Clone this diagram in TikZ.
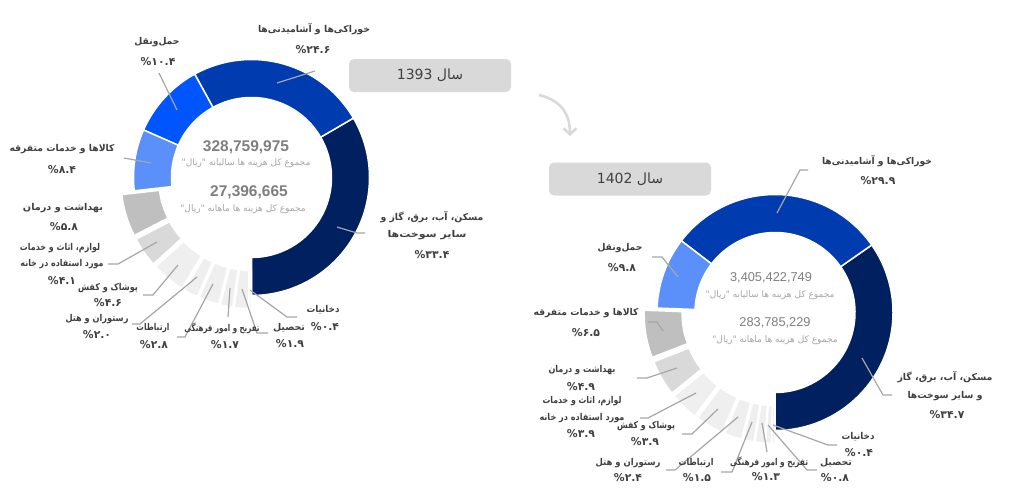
\documentclass[tikz,border=0pt]{standalone}
\usepackage{fontspec}
\usepackage{graphicx}
\setmainfont{Liberation Sans}
\newfontfamily\ar[Script=Arabic]{DejaVu Sans}
\TeXXeTstate=1
\usetikzlibrary{arrows.meta}
\definecolor{navy}{HTML}{002060}
\definecolor{foodblue}{HTML}{003CAF}
\definecolor{brightblue}{HTML}{0055FF}
\definecolor{lightblue}{HTML}{5B8FFA}
\definecolor{gA}{HTML}{BFBFBF}
\definecolor{gB}{HTML}{D9D9D9}
\definecolor{gC}{HTML}{EFEFEF}
\definecolor{labelgray}{HTML}{404040}
\definecolor{leadgray}{HTML}{A6A6A6}
\definecolor{numgray}{HTML}{7F7F7F}
\definecolor{subgray}{HTML}{A6A6A6}
\definecolor{boxgray}{HTML}{D9D9D9}
\newcommand\dslice[6]{%
  \begin{scope}[shift={(#1,#2)}]
    \pgfmathsetmacro\dsa{-(#3)}%
    \pgfmathsetmacro\dsb{-(#4)}%
    \pgfmathsetmacro\dsm{-((#3)+(#4))/2}%
    \fill[#5, draw=white, line width=1.5pt, shift={(\dsm:#6)}]
      (\dsa:80) -- (\dsa:118) arc[start angle=\dsa, end angle=\dsb, radius=118]
      -- (\dsb:80) arc[start angle=\dsb, end angle=\dsa, radius=80] -- cycle;
  \end{scope}}
\newcommand\ldrtwo[3]{\coordinate (#1s) at (#2); \coordinate (#1e) at (#3); \draw[leadline] (#1s) -- (#1e);}
\newcommand\ldrthree[4]{\coordinate (#1s) at (#2); \coordinate (#1m) at (#3); \coordinate (#1e) at (#4); \draw[leadline] (#1s) -- (#1m) -- (#1e);}
\newcommand\fw[2]{\resizebox{#1pt}{\height}{#2}}
\begin{document}
\begin{tikzpicture}[x=1pt,y=1pt,yscale=-1,
  lbl/.style={font=\ar\bfseries\fontsize{9.4}{11}\selectfont, text=labelgray, inner sep=0pt, anchor=center},
  pct/.style={font=\ar\bfseries\fontsize{10.8}{12}\selectfont, text=labelgray, inner sep=0pt, anchor=center},
  leadline/.style={draw=leadgray, line width=1.2pt},
  bignum/.style={font=\bfseries\fontsize{15.5}{18}\selectfont, text=numgray, inner sep=0pt},
  midnum/.style={font=\fontsize{12.8}{15}\selectfont, text=numgray, inner sep=0pt},
  subtxt/.style={font=\ar\fontsize{9}{10}\selectfont, text=subgray, inner sep=0pt},
  yearbox/.style={fill=boxgray, rounded corners=5pt, minimum width=162pt, minimum height=33pt, inner sep=0pt, font=\ar\fontsize{14}{16}\selectfont, text=labelgray}]
\useasboundingbox (0,0) rectangle (1023,490);
\fill[white] (0,0) rectangle (1023,490);

% ---------- chart 1 (1393) ----------
\dslice{251.5}{177.5}{-90}{30.24}{navy}{0}
\dslice{251.5}{177.5}{30.24}{118.8}{foodblue}{0}
\dslice{251.5}{177.5}{118.8}{156.24}{brightblue}{0}
\dslice{251.5}{177.5}{156.24}{186.48}{lightblue}{0}
\dslice{251.5}{177.5}{186.48}{207.36}{gA}{13}
\dslice{251.5}{177.5}{207.36}{222.12}{gB}{13}
\dslice{251.5}{177.5}{222.12}{238.68}{gC}{13}
\dslice{251.5}{177.5}{238.68}{245.88}{gC}{13}
\dslice{251.5}{177.5}{245.88}{255.96}{gC}{13}
\dslice{251.5}{177.5}{255.96}{262.08}{gC}{13}
\dslice{251.5}{177.5}{262.08}{268.92}{gC}{13}
\dslice{251.5}{177.5}{268.92}{270}{gC}{13}

% ---------- chart 2 (1402) ----------
\dslice{775}{312.5}{-90}{34.92}{navy}{0}
\dslice{775}{312.5}{34.92}{142.56}{foodblue}{0}
\dslice{775}{312.5}{142.56}{177.84}{lightblue}{0}
\dslice{775}{312.5}{177.84}{201.24}{gA}{13}
\dslice{775}{312.5}{201.24}{218.88}{gB}{13}
\dslice{775}{312.5}{218.88}{232.92}{gC}{13}
\dslice{775}{312.5}{232.92}{246.96}{gC}{13}
\dslice{775}{312.5}{246.96}{255.6}{gC}{13}
\dslice{775}{312.5}{255.6}{261}{gC}{13}
\dslice{775}{312.5}{261}{265.68}{gC}{13}
\dslice{775}{312.5}{265.68}{268.56}{gC}{13}
\dslice{775}{312.5}{268.56}{270}{gC}{13}

% ---------- leaders chart 1 ----------
\ldrtwo{la1}{277,83}{315,71}
\ldrtwo{lb1}{177,110}{159,73}
\ldrtwo{lc1}{151,163}{124,158}
\ldrthree{le1}{157,242}{118,264}{108,264}
\ldrthree{lf1}{178,265}{153,295}{143,295}
\ldrthree{lg1}{197,277}{140,324}{132,324}
\ldrthree{lh1}{213,284}{185,337}{177,337}
\ldrtwo{li1}{230,288}{228,317}
\ldrthree{lj1}{242,289}{257,333}{268,333}
\ldrthree{lk1}{250,290}{287,317}{297,317}
\ldrthree{ll1}{337,227}{357,233}{365,233}

% ---------- leaders chart 2 ----------
\ldrthree{la2}{777,213}{800,170}{808,170}
\ldrthree{lb2}{678,277}{662,257}{652,257}
\ldrthree{lc2}{663,331}{657,322}{648,322}
\ldrthree{ld2}{677,368}{647,378}{637,378}
\ldrthree{le2}{696,393}{648,418}{640,418}
\ldrthree{lf2}{718,409}{692,434}{682,434}
\ldrthree{lg2}{738,417}{675,470}{666,470}
\ldrthree{lh2}{752,422}{732,472}{721,472}
\ldrtwo{li2}{762,423}{767,452}
\ldrthree{lj2}{768,425}{807,470}{817,470}
\ldrthree{lk2}{773,425}{828,445}{837,445}
\ldrthree{ll2}{862,358}{883,395}{892,395}

% ---------- centre texts ----------
\node[bignum] (tot1) at (246,147) {328,759,975};
\node[subtxt] (tot1s) at (246,163) {\beginR مجموع کل هزینه ها سالیانه "ریال"\endR};
\node[bignum] (mon1) at (249,192) {27,396,665};
\node[subtxt] (mon1s) at (243,209) {\beginR مجموع کل هزینه ها ماهانه "ریال"\endR};

\node[midnum] (tot2) at (771,278) {3,405,422,749};
\node[subtxt] (tot2s) at (770,295) {\beginR مجموع کل هزینه ها سالیانه "ریال"\endR};
\node[midnum] (mon2) at (775,323) {283,785,229};
\node[subtxt] (mon2s) at (775,340) {\beginR مجموع کل هزینه ها ماهانه "ریال"\endR};

% ---------- year boxes and arrow ----------
\node[yearbox] (y1) at (430,75.5) {\beginR سال 1393\endR};
\node[yearbox] (y2) at (630,179) {\beginR سال 1402\endR};
\coordinate (arS) at (539,95);
\coordinate (arE) at (570,136);
\draw[boxgray, line width=2.5pt, -{Straight Barb[length=6pt,width=13pt]}] (arS) .. controls (560,100) and (570,113) .. (arE);

% ---------- labels chart 1 ----------
\node[lbl] (a1t) at (314,29) {\fw{112}{\beginR خوراکی‌ها و آشامیدنی‌ها\endR}};
\node[pct] (a1p) at (313,50) {\%۲۴.۶};
\node[lbl] (b1t) at (157,42) {\fw{45}{\beginR حمل‌ونقل\endR}};
\node[pct] (b1p) at (158,62) {\%۱۰.۴};
\node[lbl] (c1t) at (62,149) {\fw{105}{\beginR کالاها و خدمات متفرقه\endR}};
\node[pct] (c1p) at (62,170) {\%۸.۴};
\node[lbl] (d1t) at (63,208) {\fw{80}{\beginR بهداشت و درمان\endR}};
\node[pct] (d1p) at (64,227) {\%۵.۸};
\node[lbl] (e1t) at (60,248) {\fw{80}{\beginR لوازم، اثاث و خدمات\endR}};
\node[lbl] (e1u) at (62,264) {\fw{83}{\beginR مورد استفاده در خانه\endR}};
\node[pct] (e1p) at (62,281) {\%۴.۱};
\node[lbl] (f1t) at (108,288) {\fw{60}{\beginR پوشاک و کفش\endR}};
\node[pct] (f1p) at (108,303) {\%۴.۶};
\node[lbl] (g1t) at (97,319) {\fw{63}{\beginR رستوران و هتل\endR}};
\node[pct] (g1p) at (97,335) {\%۲.۰};
\node[lbl] (h1t) at (153,328) {\fw{33}{\beginR ارتباطات\endR}};
\node[pct] (h1p) at (154,345) {\%۲.۸};
\node[lbl] (i1t) at (222,328) {\fw{75}{\beginR تفریح و امور فرهنگی\endR}};
\node[pct] (i1p) at (225,345) {\%۱.۷};
\node[lbl] (j1t) at (289,328) {\fw{32}{\beginR تحصیل\endR}};
\node[pct] (j1p) at (290,344) {\%۱.۹};
\node[lbl] (k1t) at (323,310) {\fw{33}{\beginR دخانیات\endR}};
\node[pct] (k1p) at (325,327) {\%۰.۴};
\node[lbl] (l1t) at (432,217) {\fw{103}{\beginR مسکن، آب، برق، گاز و\endR}};
\node[lbl] (l1u) at (427,235) {\fw{79}{\beginR سایر سوخت‌ها\endR}};
\node[pct] (l1p) at (432,255) {\%۳۳.۴};

% ---------- labels chart 2 ----------
\node[lbl] (a2t) at (877,161) {\fw{110}{\beginR خوراکی‌ها و آشامیدنی‌ها\endR}};
\node[pct] (a2p) at (878,181) {\%۲۹.۹};
\node[lbl] (b2t) at (620,248) {\fw{45}{\beginR حمل‌ونقل\endR}};
\node[pct] (b2p) at (622,268) {\%۹.۸};
\node[lbl] (c2t) at (586,313) {\fw{105}{\beginR کالاها و خدمات متفرقه\endR}};
\node[pct] (c2p) at (586,333) {\%۶.۵};
\node[lbl] (d2t) at (582,370) {\fw{67}{\beginR بهداشت و درمان\endR}};
\node[pct] (d2p) at (581,387) {\%۴.۹};
\node[lbl] (e2t) at (582,401) {\fw{79}{\beginR لوازم، اثاث و خدمات\endR}};
\node[lbl] (e2u) at (582,418) {\fw{85}{\beginR مورد استفاده در خانه\endR}};
\node[pct] (e2p) at (581,434) {\%۳.۹};
\node[lbl] (f2t) at (646,426) {\fw{58}{\beginR پوشاک و کفش\endR}};
\node[pct] (f2p) at (645,442) {\%۳.۹};
\node[lbl] (g2t) at (628,463) {\fw{65}{\beginR رستوران و هتل\endR}};
\node[pct] (g2p) at (628,478) {\%۲.۴};
\node[lbl] (h2t) at (696,463) {\fw{35}{\beginR ارتباطات\endR}};
\node[pct] (h2p) at (697,478) {\%۱.۵};
\node[lbl] (i2t) at (769,462) {\fw{78}{\beginR تفریح و امور فرهنگی\endR}};
\node[pct] (i2p) at (766,477) {\%۱.۳};
\node[lbl] (j2t) at (836,463) {\fw{32}{\beginR تحصیل\endR}};
\node[pct] (j2p) at (835,478) {\%۰.۸};
\node[lbl] (k2t) at (858,437) {\fw{33}{\beginR دخانیات\endR}};
\node[pct] (k2p) at (859,453) {\%۰.۴};
\node[lbl] (l2t) at (945,377) {\fw{95}{\beginR مسکن، آب، برق، گاز\endR}};
\node[lbl] (l2u) at (945,396) {\fw{75}{\beginR و سایر سوخت‌ها\endR}};
\node[pct] (l2p) at (947,415) {\%۳۴.۷};
\end{tikzpicture}
\end{document}
